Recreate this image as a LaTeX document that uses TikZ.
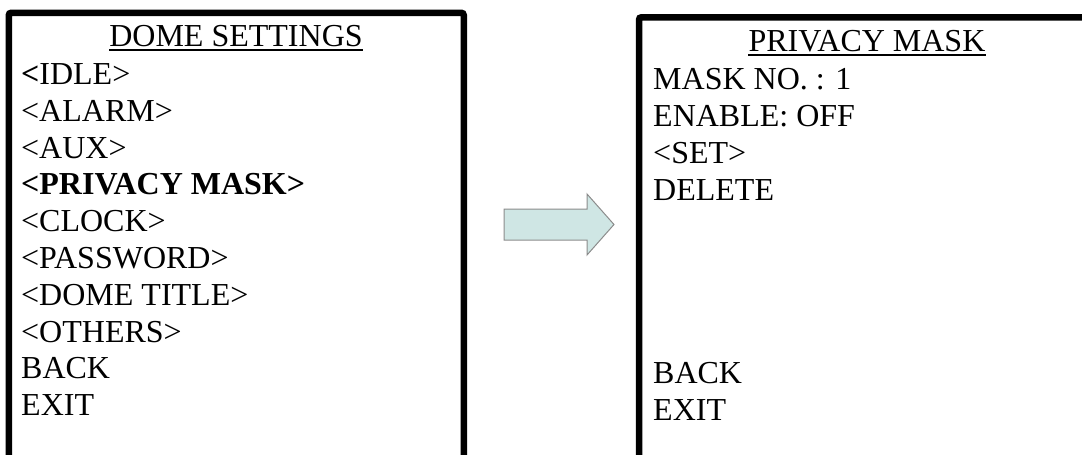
\documentclass[tikz,border=0pt]{standalone}
\usepackage{fontspec}
\setmainfont{Liberation Serif}
\definecolor{arrowfill}{RGB}{207,230,228}
\definecolor{arrowline}{RGB}{140,140,140}
\begin{document}
\begin{tikzpicture}[x=1pt,y=-1pt,
  screen/.style={line width=6.5pt, rounded corners=2.5pt},
  menutext/.style={inner sep=0pt, font=\fontsize{32}{37}\selectfont},
  item/.style={menutext, anchor=base west},
  heading/.style={menutext, anchor=base},
  rule/.style={line width=1.6pt},
  pointer/.style={fill=arrowfill, draw=arrowline, line width=1pt, line join=miter}]
\useasboundingbox (0,0) rectangle (1082,455);

% menu frames (open at the bottom edge)
\draw[screen] (8.75,480) -- (8.75,12.75) -- (463.75,12.75) -- (463.75,480);
\draw[screen] (639,480) -- (639,17.25) -- (1094,17.25) -- (1094,480);

% DOME SETTINGS menu
\node[heading] (ltitle) at (236,46) {DOME SETTINGS};
\draw[rule] ([yshift=-4pt]ltitle.base west) -- ([yshift=-4pt]ltitle.base east);
\node[item] (idle)  at (21,84)  {\textbf{<}IDLE>};
\node[item] (alarm) at (21,121) {<ALARM>};
\node[item] (aux)   at (21,158) {<AUX>};
\node[item] (pmask) at (21,194) {\textbf{<PRIVACY MASK>}};
\node[item] (clock) at (21,231) {<CLOCK>};
\node[item] (pwd)   at (21,268) {<PASSWORD>};
\node[item] (dtitle) at (21,305) {<DOME TITLE>};
\node[item] (others) at (21,342) {<OTHERS>};
\node[item] (lback) at (21,378) {BACK};
\node[item] (lexit) at (21,415) {EXIT};

% transition arrow
\draw[pointer] (504,209) -- (587,209) -- (587,194) -- (614,224.5)
  -- (587,255) -- (587,240) -- (504,240) -- cycle;

% PRIVACY MASK menu
\node[heading] (rtitle) at (867,51) {PRIVACY MASK};
\draw[rule] ([yshift=-4pt]rtitle.base west) -- ([yshift=-4pt]rtitle.base east);
\node[item] (maskno) at (653,89)  {MASK NO. : 1};
\node[item] (enable) at (653,126) {ENABLE: OFF};
\node[item] (set)    at (653,163) {<SET>};
\node[item] (delete) at (653,200) {DELETE};
\node[item] (rback)  at (653,383) {BACK};
\node[item] (rexit)  at (653,420) {EXIT};
\end{tikzpicture}
\end{document}
